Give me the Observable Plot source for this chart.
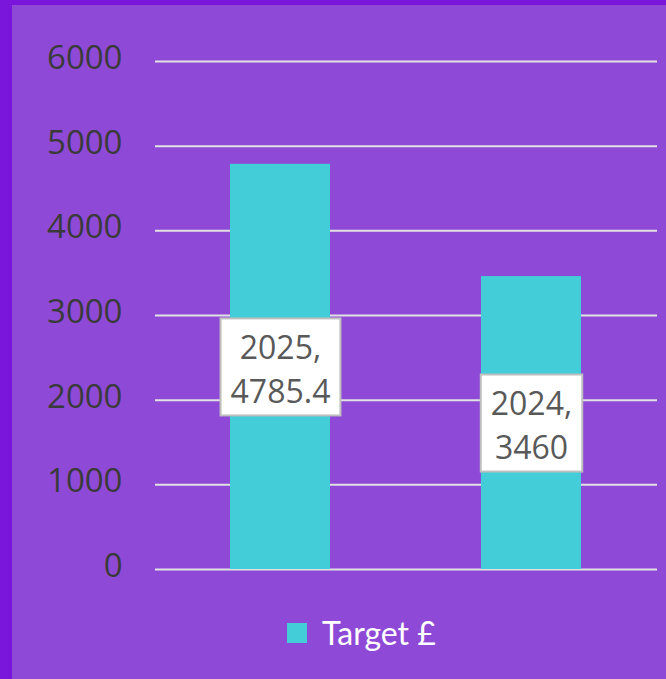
<!DOCTYPE html>
<html>
<head>
<meta charset="utf-8">
<script src="https://cdn.jsdelivr.net/npm/d3@7"></script>
<script src="https://cdn.jsdelivr.net/npm/@observablehq/plot@0.6"></script>
<style>
  html, body { margin: 0; padding: 0; background: #7a16dc; width: 666px; height: 679px; overflow: hidden; }
  #chart { position: absolute; left: 12px; top: 5px; width: 654px; height: 674px; background: #8e4ad7; }
  #legend { position: absolute; left: 275px; top: 608px; display: flex; align-items: center;
            font-family: Lato, sans-serif; font-size: 32px; color: #ffffff; }
  #legend .sw { width: 20px; height: 20px; background: #42cdd8; margin-right: 15px; }
</style>
</head>
<body>
<div id="chart"><div id="legend"><div class="sw"></div><span>Target £</span></div></div>
<script>
const years = ["2025", "2024"];
const targets = [4785.4, 3460];
const yTicks = [0, 1000, 2000, 3000, 4000, 5000, 6000];
const seriesName = "Target £";

const data = years.map((y, i) => ({year: y, value: targets[i]}));

const plot = Plot.plot({
  width: 654,
  height: 600,
  marginLeft: 143,
  marginRight: 9,
  marginTop: 56,
  marginBottom: 36,
  style: {background: "transparent", fontFamily: "'Open Sans', sans-serif", overflow: "visible"},
  x: {domain: years, paddingInner: 0.6, paddingOuter: 0.3, axis: null},
  y: {domain: [0, 6000], ticks: yTicks, label: null},
  marks: [
    Plot.gridY(yTicks, {stroke: "#e2e2e2", strokeOpacity: 1, strokeWidth: 2}),
    Plot.axisY(yTicks, {tickSize: 0, tickPadding: 33, fontSize: 33, fill: "#3a3a3a", label: null, dy: -3, tickFormat: d => String(d)}),
    Plot.barY(data, {x: "year", y: "value", fill: "#42cdd8"}),
    Plot.text(data, {
      x: "year", y: d => d.value / 2,
      text: d => `${d.year},\n${d.value}`,
      fontSize: 32, fill: "#595959", lineHeight: 1.375, lineAnchor: "middle",
      className: "barlabel"
    })
  ]
});

document.getElementById("chart").insertBefore(plot, document.getElementById("legend"));

const ys = plot.scale("y");
const xs = plot.scale("x");
const texts = plot.querySelectorAll("g.barlabel text");
texts.forEach((t, i) => {
  const bb = t.getBBox();
  const cy = ys.apply(data[i].value / 2);
  const cx = xs.apply(data[i].year);
  const w = bb.width + 20;
  const r = document.createElementNS("http://www.w3.org/2000/svg", "rect");
  r.setAttribute("x", cx - w / 2);
  r.setAttribute("width", w);
  r.setAttribute("y", cy - 48.5);
  r.setAttribute("height", 97);
  r.setAttribute("fill", "#ffffff");
  r.setAttribute("stroke", "#bfbfbf");
  r.setAttribute("stroke-width", 2);
  t.parentNode.insertBefore(r, t);
});
</script>
</body>
</html>
